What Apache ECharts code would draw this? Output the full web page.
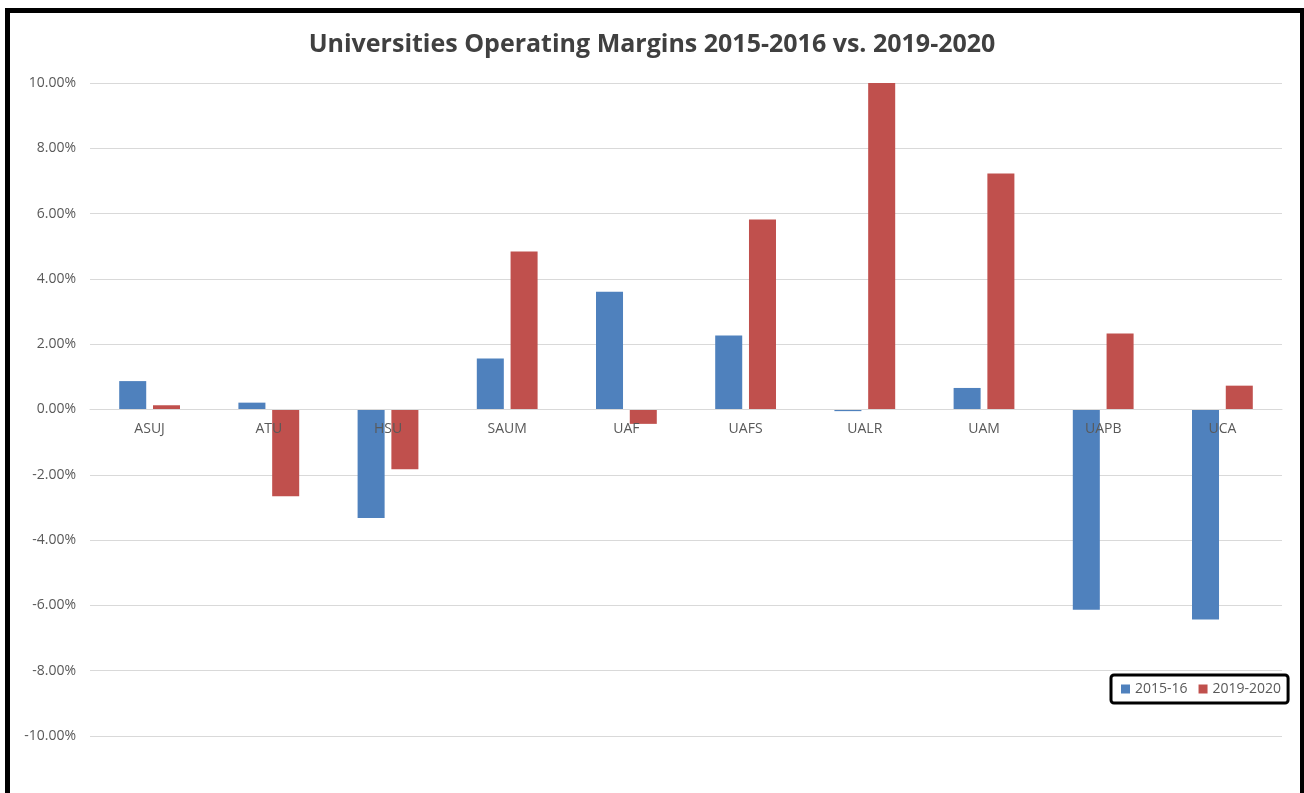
<!DOCTYPE html>
<html>
<head>
<meta charset="utf-8">
<script src="https://cdn.jsdelivr.net/npm/echarts@6/dist/echarts.min.js"></script>
<style>
  html, body { margin: 0; padding: 0; background: #fff; }
  #chart { width: 1304px; height: 793px; }
</style>
</head>
<body>
<div id="chart"></div>
<script>
  // universities on the x axis
  const schools = ['ASUJ', 'ATU', 'HSU', 'SAUM', 'UAF', 'UAFS', 'UALR', 'UAM', 'UAPB', 'UCA']
  // operating margins, in percent
  const margin2015 = [0.87, 0.21, -3.32, 1.56, 3.61, 2.27, -0.05, 0.66, -6.13, -6.43]
  const margin2019 = [0.13, -2.66, -1.83, 4.84, -0.44, 5.82, 10.0, 7.23, 2.33, 0.73]
  const seriesNames = ['2015-16', '2019-2020']

  const font = 'Open Sans, Noto Sans, sans-serif'
  let chart = echarts.init(document.getElementById('chart'))
  chart.setOption({
    animation: false,
    backgroundColor: '#fff',
    title: {
      text: 'Universities Operating Margins 2015-2016 vs. 2019-2020',
      left: 'center',
      top: 27,
      textStyle: { fontFamily: font, fontSize: 25, fontWeight: 'bold', color: '#404040' }
    },
    // black frame round the picture
    graphic: [{
      type: 'rect',
      shape: { x: 7.5, y: 10.5, width: 1295, height: 800 },
      style: { fill: null, stroke: '#000', lineWidth: 5 },
      z: 100
    }],
    legend: {
      data: seriesNames,
      left: 1111,
      top: 675,
      itemWidth: 9,
      itemHeight: 9,
      itemGap: 11,
      padding: [7, 7, 7, 10],
      borderColor: '#000',
      borderWidth: 3,
      borderRadius: 3,
      icon: 'rect',
      textStyle: { fontFamily: font, fontSize: 14, color: '#595959' }
    },
    grid: { left: 90, right: 22, top: 83, bottom: 57 },
    xAxis: {
      type: 'category',
      data: schools,
      // the axis sits on the 0% line (plot height 653px, zero at the middle)
      offset: -327,
      z: 5,
      axisLine: { onZero: false, lineStyle: { color: '#d9d9d9', width: 1 } },
      axisTick: { show: false },
      axisLabel: { fontFamily: font, fontSize: 14, color: '#595959', margin: 13 }
    },
    yAxis: {
      type: 'value',
      min: -10,
      max: 10,
      interval: 2,
      axisLine: { show: false },
      axisTick: { show: false },
      splitLine: { lineStyle: { color: '#d9d9d9', width: 1 } },
      axisLabel: {
        fontFamily: font, fontSize: 14, color: '#595959', margin: 14,
        formatter: v => v.toFixed(2) + '%'
      }
    },
    series: [
      {
        name: seriesNames[0],
        type: 'bar',
        data: margin2015,
        barGap: '25%',
        barCategoryGap: '49%',
        itemStyle: { color: '#4f81bd' }
      },
      {
        name: seriesNames[1],
        type: 'bar',
        data: margin2019,
        barGap: '25%',
        barCategoryGap: '49%',
        itemStyle: { color: '#c0504d' }
      }
    ]
  })
</script>
</body>
</html>
